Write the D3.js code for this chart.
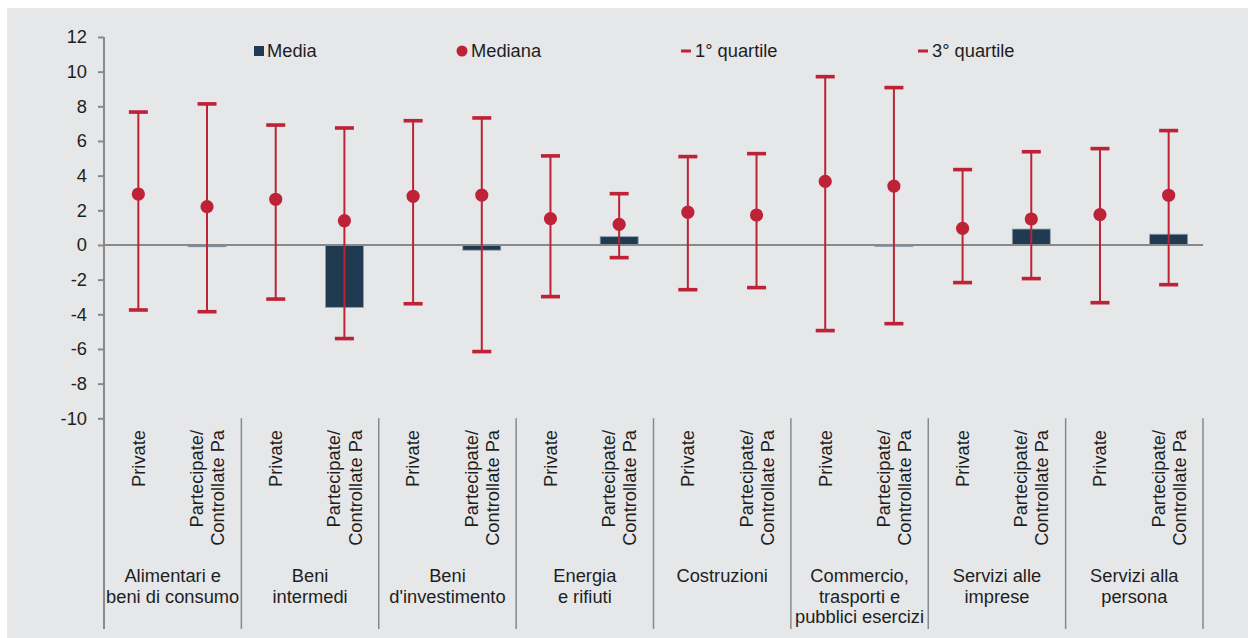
<!DOCTYPE html>
<html>
<head>
<meta charset="utf-8">
<script src="https://cdn.jsdelivr.net/npm/d3@7"></script>
<style>
  html, body { margin: 0; padding: 0; background: #ffffff; }
  svg { display: block; font-family: "Liberation Sans", Arial, sans-serif; }
</style>
</head>
<body>
<svg id="chart" width="1252" height="638"></svg>
<script>
// ---- Data ----
const groups = [
  ["Alimentari e", "beni di consumo"],
  ["Beni", "intermedi"],
  ["Beni", "d'investimento"],
  ["Energia", "e rifiuti"],
  ["Costruzioni"],
  ["Commercio,", "trasporti e", "pubblici esercizi"],
  ["Servizi alle", "imprese"],
  ["Servizi alla", "persona"]
];
const subcats = [["Private"], ["Partecipate/", "Controllate Pa"]];

// 16 slots: for each group, Private then Partecipate/Controllate Pa
const media   = [null, -0.10, null, -3.60, null, -0.30, null, 0.48, null, null, null, -0.08, null, 0.92, null, 0.62];
const mediana = [2.94, 2.21, 2.64, 1.40, 2.81, 2.88, 1.52, 1.19, 1.89, 1.73, 3.67, 3.40, 0.96, 1.50, 1.75, 2.87];
const quart1  = [-3.75, -3.85, -3.12, -5.40, -3.39, -6.15, -2.98, -0.73, -2.58, -2.46, -4.94, -4.54, -2.17, -1.94, -3.33, -2.29];
const quart3  = [7.67, 8.14, 6.92, 6.75, 7.17, 7.33, 5.14, 2.96, 5.10, 5.27, 9.71, 9.08, 4.35, 5.38, 5.56, 6.60];
const yTicks  = [-10, -8, -6, -4, -2, 0, 2, 4, 6, 8, 10, 12];
const legendLabels = ["Media", "Mediana", "1° quartile", "3° quartile"];

// ---- Styles ----
const BG = "#e6e7e9", RED = "#bd2236", NAVY = "#203a52", AXIS = "#898989", TXT = "#1e1e1e";
const FS = 18.3;

const svg = d3.select("#chart");
svg.append("rect").attr("x", 7).attr("y", 8).attr("width", 1241).attr("height", 630).attr("fill", BG);

const pLeft = 104, pRight = 1203, pTop = 37, pBottom = 418.3;
const y = d3.scaleLinear().domain([-10, 12]).range([pBottom, pTop]);
const slots = d3.range(groups.length * subcats.length);
const x = d3.scaleBand().domain(slots).range([pLeft, pRight]).padding(0);
const gx = d3.scaleBand().domain(d3.range(groups.length)).range([pLeft, pRight]).padding(0);

// Y axis
const yAxis = svg.append("g").attr("transform", `translate(${pLeft},0)`)
  .call(d3.axisLeft(y).tickValues(yTicks).tickSize(6).tickPadding(11).tickFormat(d => String(d)));
yAxis.select(".domain").remove();
yAxis.selectAll(".tick line").attr("stroke", AXIS).attr("stroke-width", 2);
yAxis.selectAll(".tick text").attr("fill", TXT).style("font-size", FS + "px")
  .style("font-family", "'Liberation Sans', Arial, sans-serif");

// vertical axis line extended down as first separator
svg.append("line").attr("x1", pLeft).attr("x2", pLeft).attr("y1", pTop).attr("y2", 629)
  .attr("stroke", AXIS).attr("stroke-width", 2);

// group separators
const seps = d3.range(1, groups.length + 1).map(i => i < groups.length ? gx(i) : pRight);
svg.append("g").selectAll("line").data(seps).join("line")
  .attr("x1", d => d).attr("x2", d => d).attr("y1", pBottom).attr("y2", 629)
  .attr("stroke", AXIS).attr("stroke-width", 1.5);

// Bars (media)
const bw = 38;
svg.append("g").selectAll("rect").data(slots.filter(i => media[i] !== null)).join("rect")
  .attr("x", i => x(i) + x.bandwidth() / 2 - bw / 2)
  .attr("width", bw)
  .attr("y", i => Math.min(y(0), y(media[i])))
  .attr("height", i => Math.max(1.2, Math.abs(y(media[i]) - y(0))))
  .attr("fill", NAVY).attr("stroke", "#8d9fb0").attr("stroke-width", 0.8);

// zero line
svg.append("line").attr("x1", pLeft).attr("x2", pRight).attr("y1", y(0)).attr("y2", y(0))
  .attr("stroke", AXIS).attr("stroke-width", 2);

// error bars
const eb = svg.append("g");
const cx = i => x(i) + x.bandwidth() / 2;
eb.selectAll("line.v").data(slots).join("line").attr("class", "v")
  .attr("x1", cx).attr("x2", cx).attr("y1", i => y(quart3[i])).attr("y2", i => y(quart1[i]))
  .attr("stroke", RED).attr("stroke-width", 2);
const capW = 19, capH = 3.6;
eb.selectAll("rect.q3").data(slots).join("rect").attr("class", "q3")
  .attr("x", i => cx(i) - capW / 2).attr("y", i => y(quart3[i]) - capH / 2)
  .attr("width", capW).attr("height", capH).attr("fill", RED);
eb.selectAll("rect.q1").data(slots).join("rect").attr("class", "q1")
  .attr("x", i => cx(i) - capW / 2).attr("y", i => y(quart1[i]) - capH / 2)
  .attr("width", capW).attr("height", capH).attr("fill", RED);
eb.selectAll("circle").data(slots).join("circle")
  .attr("cx", cx).attr("cy", i => y(mediana[i])).attr("r", 6.6).attr("fill", RED);

// Sub-category rotated labels
const sub = svg.append("g");
slots.forEach(i => {
  const lines = subcats[i % subcats.length];
  const t = sub.append("text")
    .attr("transform", `translate(${cx(i)},430) rotate(-90)`)
    .attr("text-anchor", "end").attr("fill", TXT).style("font-size", FS + "px");
  if (lines.length === 1) {
    t.append("tspan").attr("x", 0).attr("y", 6.3).text(lines[0]);
  } else {
    lines.forEach((l, k) => t.append("tspan").attr("x", 0).attr("y", -4 + k * 21.2).text(l));
  }
});

// Group labels
const gl = svg.append("g");
groups.forEach((lines, g) => {
  const t = gl.append("text").attr("text-anchor", "middle").attr("fill", TXT).style("font-size", FS + "px");
  lines.forEach((l, k) => t.append("tspan").attr("x", gx(g) + gx.bandwidth() / 2).attr("y", 582 + k * 20.5).text(l));
});

// Legend
const lg = svg.append("g").style("font-size", FS + "px").attr("fill", TXT);
lg.append("rect").attr("x", 254).attr("y", 46).attr("width", 10).attr("height", 10).attr("fill", NAVY);
lg.append("text").attr("x", 267).attr("y", 57).text(legendLabels[0]);
lg.append("circle").attr("cx", 462).attr("cy", 51).attr("r", 5.5).attr("fill", RED);
lg.append("text").attr("x", 471).attr("y", 57).text(legendLabels[1]);
lg.append("rect").attr("x", 681).attr("y", 49.5).attr("width", 10).attr("height", 3).attr("fill", RED);
lg.append("text").attr("x", 695).attr("y", 57).text(legendLabels[2]);
lg.append("rect").attr("x", 918).attr("y", 49.5).attr("width", 10).attr("height", 3).attr("fill", RED);
lg.append("text").attr("x", 932).attr("y", 57).text(legendLabels[3]);
</script>
</body>
</html>
